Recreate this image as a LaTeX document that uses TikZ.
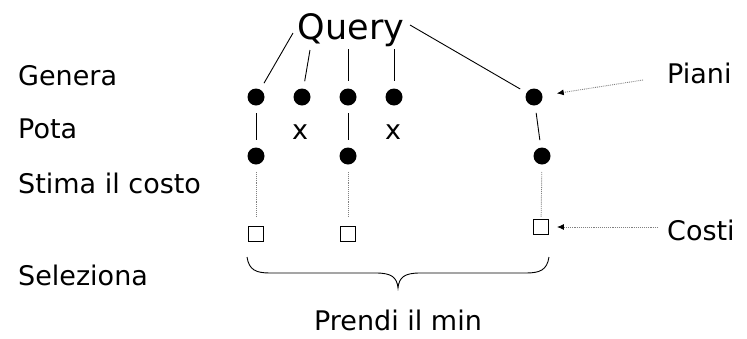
\documentclass[tikz,border=0pt]{standalone}
\usepackage{fontspec}
\setmainfont{DejaVu Sans}
\usetikzlibrary{arrows.meta}
\begin{document}
\begin{tikzpicture}[x=1pt,y=-1pt,
  lbl/.style={font=\fontsize{27}{30}\selectfont, anchor=base west, inner sep=0pt},
  txt/.style={font=\fontsize{27}{30}\selectfont, anchor=base, inner sep=0pt},
  dot/.style={circle, fill=black, minimum size=17pt, inner sep=0pt, outer sep=7.5pt},
  sq/.style={draw, line width=0.9pt, minimum size=15pt, inner sep=0pt},
  link/.style={line width=0.9pt},
  dotline/.style={gray, densely dotted, line width=0.9pt},
  pointer/.style={dotline, -{Latex[black,length=7pt,width=6pt]}}]
\useasboundingbox (0,0) rectangle (747,338);
% labels
\node[lbl] (genera) at (18,85) {Genera};
\node[lbl] (pota) at (18,138) {Pota};
\node[lbl] (stima) at (18,193) {Stima il costo};
\node[lbl] (seleziona) at (18,285) {Seleziona};
\node[lbl] (piani) at (667,83) {Piani};
\node[lbl] (costi) at (667,240) {Costi};
\node[font=\fontsize{35}{40}\selectfont, anchor=base, inner sep=0pt] (query) at (351,39) {Query};
\node[txt] (prendi) at (398,330) {Prendi il min};
\node[txt] (x1) at (300,139) {x};
\node[txt] (x2) at (393,139) {x};
% plans
\node[dot] (a1) at (256,97) {};
\node[dot] (a2) at (302,97) {};
\node[dot] (a3) at (348,97) {};
\node[dot] (a4) at (394,97) {};
\node[dot] (a5) at (534,97) {};
\node[dot] (b1) at (256,156) {};
\node[dot] (b3) at (348,156) {};
\node[dot] (b5) at (542,156) {};
\node[sq] (c1) at (256,234) {};
\node[sq] (c3) at (348,234) {};
\node[sq] (c5) at (541,227) {};
% query branch starts
\coordinate (q1) at (293,33);
\coordinate (q2) at (310,50);
\coordinate (q3) at (348,49);
\coordinate (q4) at (394,49);
\coordinate (q5) at (410,25);
\draw[link] (q1) -- (a1);
\draw[link] (q2) -- (a2);
\draw[link] (q3) -- (a3);
\draw[link] (q4) -- (a4);
\draw[link] (q5) -- (a5);
\draw[link] (a1) -- (b1);
\draw[link] (a3) -- (b3);
\draw[link] (a5) -- (b5);
\draw[dotline, shorten >=10pt] (b1) -- (c1);
\draw[dotline, shorten >=10pt] (b3) -- (c3);
\draw[dotline, shorten >=2pt] (b5) -- (c5);
% pointers
\coordinate (ps) at (643,80);
\coordinate (cs) at (658,227);
\draw[pointer, shorten >=7pt] (ps) -- (a5);
\draw[pointer, shorten >=8pt] (cs) -- (c5);
% brace
\draw[link] (247,257) .. controls (249,270) and (256,273) .. (270,273) -- (376,273)
  .. controls (391,273) and (397,277) .. (398,288)
  .. controls (399,277) and (405,273) .. (420,273) -- (526,273)
  .. controls (540,273) and (547,270) .. (549,257);
\end{tikzpicture}
\end{document}
